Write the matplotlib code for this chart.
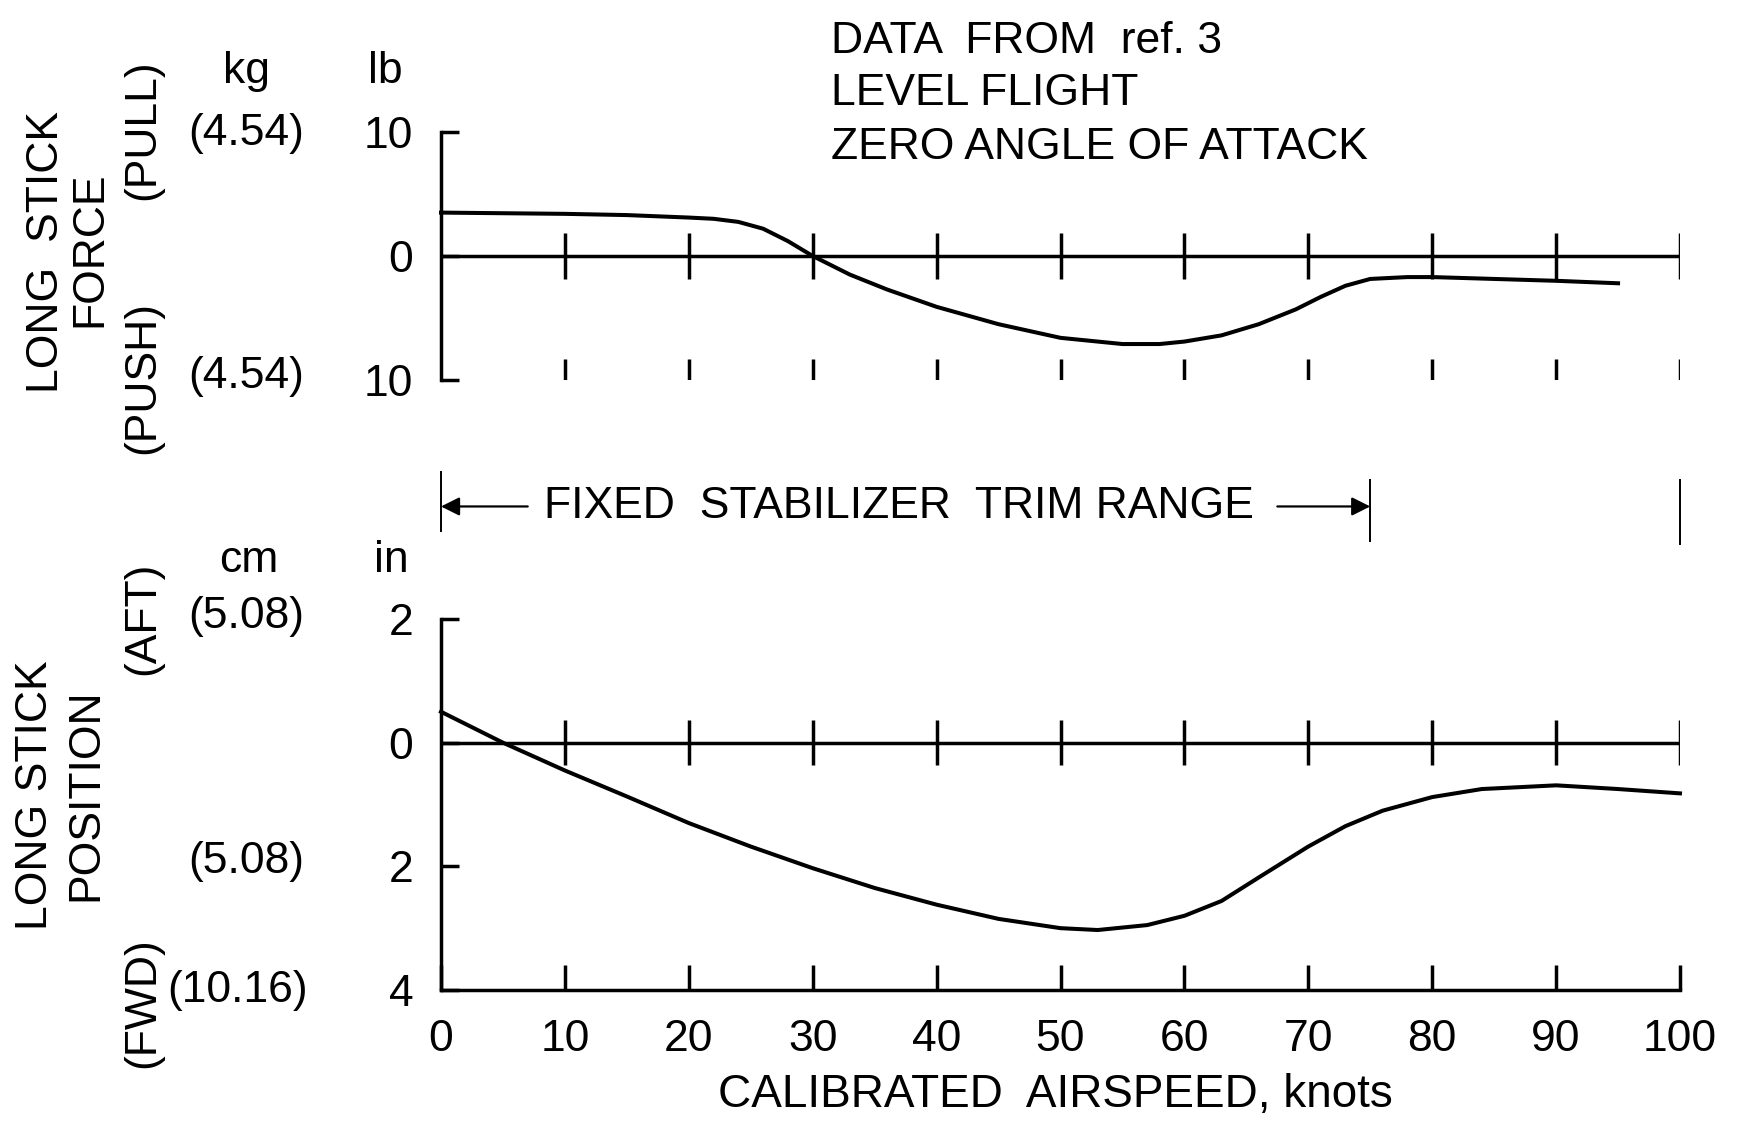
import numpy as np
import matplotlib
matplotlib.use("Agg")
from matplotlib import pyplot as plt

plt.rcParams['font.family'] = ['Liberation Sans', 'DejaVu Sans']

# airspeed ticks, knots
speed_ticks = [0, 10, 20, 30, 40, 50, 60, 70, 80, 90, 100]

# long stick force, lb (+ pull, - push)
force_speed = [0, 5, 10, 15, 20, 22, 24, 26, 28, 30, 33, 36, 40, 45, 50, 55,
               58, 60, 63, 66, 69, 71, 73, 75, 78, 80, 85, 90, 95]
force_lb = [3.5, 3.45, 3.4, 3.3, 3.1, 3.0, 2.75, 2.2, 1.2, 0.0, -1.5, -2.7,
            -4.1, -5.5, -6.6, -7.1, -7.1, -6.9, -6.4, -5.5, -4.3, -3.3, -2.4,
            -1.85, -1.7, -1.7, -1.85, -2.0, -2.2]

# long stick position, in (+ aft, - fwd)
pos_speed = [0, 5, 10, 15, 20, 25, 30, 35, 40, 45, 50, 53, 57, 60, 63, 66,
             70, 73, 76, 80, 84, 90, 95, 100]
pos_in = [0.5, 0.0, -0.45, -0.87, -1.3, -1.68, -2.03, -2.35, -2.62, -2.85,
          -3.0, -3.03, -2.95, -2.8, -2.56, -2.18, -1.68, -1.35, -1.1, -0.88,
          -0.75, -0.69, -0.75, -0.82]

trim_start, trim_end, trim_max = 0, 75, 100

W, H = 1738, 1129
fs = 32
lw = 2.5
clw = 2.9

fig = plt.figure(figsize=(W / 100, H / 100), dpi=100)


def box(l, t, r, b):
    return [l / W, 1 - b / H, (r - l) / W, (b - t) / H]


def ftext(x, y, s, **kw):
    kw.setdefault('ha', 'center')
    kw.setdefault('va', 'baseline')
    fig.text(x / W, 1 - y / H, s, fontsize=kw.pop('size', fs), **kw)


# ---- top panel: stick force
ax1 = fig.add_axes(box(441, 132, 1680, 380))
ax1.set_xlim(0, 100)
ax1.set_ylim(-10, 10)
for s in ['top', 'right', 'bottom']:
    ax1.spines[s].set_visible(False)
ax1.spines['left'].set_linewidth(lw)
ax1.set_xticks([])
ax1.set_yticks([10, 0, -10])
ax1.set_yticklabels(['10', '0', '10'], fontsize=fs)
ax1.tick_params(axis='y', direction='in', length=13, width=lw, pad=20)
ax1.plot([0, 100], [0, 0], color='k', lw=lw)
ax1.vlines(speed_ticks[1:], -1.85, 1.85, color='k', lw=lw)
ax1.vlines(speed_ticks[1:], -10, -8.3, color='k', lw=lw)
ax1.plot(force_speed, force_lb, color='k', lw=clw, clip_on=False)

# ---- bottom panel: stick position
ax2 = fig.add_axes(box(441, 619, 1680, 990))
ax2.set_xlim(0, 100)
ax2.set_ylim(-4, 2)
for s in ['top', 'right']:
    ax2.spines[s].set_visible(False)
ax2.spines['left'].set_linewidth(lw)
ax2.spines['bottom'].set_linewidth(lw)
ax2.set_xticks(speed_ticks)
ax2.set_xticklabels([str(v) for v in speed_ticks], fontsize=fs)
ax2.tick_params(axis='x', direction='in', length=18, width=lw, pad=21)
ax2.set_yticks([2, 0, -2, -4])
ax2.set_yticklabels(['2', '0', '2', '4'], fontsize=fs)
ax2.tick_params(axis='y', direction='in', length=13, width=lw, pad=20)
ax2.plot([0, 100], [0, 0], color='k', lw=lw)
ax2.vlines(speed_ticks[1:], -0.36, 0.36, color='k', lw=lw)
ax2.plot(pos_speed, pos_in, color='k', lw=clw, clip_on=False)

# trim range annotation between panels
ax2.vlines([trim_start], 3.41, 4.40, color='k', lw=1.4, clip_on=False)
ax2.vlines([trim_end], 3.25, 4.26, color='k', lw=1.4, clip_on=False)
ax2.vlines([trim_max], 3.2, 4.26, color='k', lw=1.4, clip_on=False)
ax2.annotate('', xy=(trim_start, 3.82), xytext=(7, 3.82),
             arrowprops=dict(arrowstyle='-|>', color='k', lw=1.6,
                             mutation_scale=28, shrinkA=0, shrinkB=0),
             annotation_clip=False)
ax2.annotate('', xy=(trim_end, 3.82), xytext=(67.5, 3.82),
             arrowprops=dict(arrowstyle='-|>', color='k', lw=1.6,
                             mutation_scale=28, shrinkA=0, shrinkB=0),
             annotation_clip=False)
ax2.text(37.0, 3.82, 'FIXED  STABILIZER  TRIM RANGE', fontsize=fs,
         ha='center', va='center')

# notes
ftext(831, 53, 'DATA  FROM  ref. 3', ha='left')
ftext(831, 105, 'LEVEL FLIGHT', ha='left')
ftext(831, 159, 'ZERO ANGLE OF ATTACK', ha='left')

# unit headers and secondary scale
ftext(246, 83, 'kg')
ftext(385, 83, 'lb')
ftext(246, 145, '(4.54)')
ftext(246, 388, '(4.54)')
ftext(249, 572, 'cm')
ftext(391, 572, 'in')
ftext(246, 628, '(5.08)')
ftext(246, 873, '(5.08)')
ftext(238, 1002, '(10.16)')
ftext(1055, 1107, 'CALIBRATED  AIRSPEED, knots', size=33)

# rotated axis titles
for x, y, s in [(47, 252, 'LONG  STICK'), (90, 249, 'FORCE'),
                (143, 130, '(PULL)'), (143, 377, '(PUSH)'),
                (36, 795, 'LONG STICK'), (86, 795, 'POSITION'),
                (143, 618, '(AFT)'), (143, 1003, '(FWD)')]:
    ftext(x, y, s, rotation=90, va='center')

fig.savefig('out.png', dpi=100, facecolor='white')
